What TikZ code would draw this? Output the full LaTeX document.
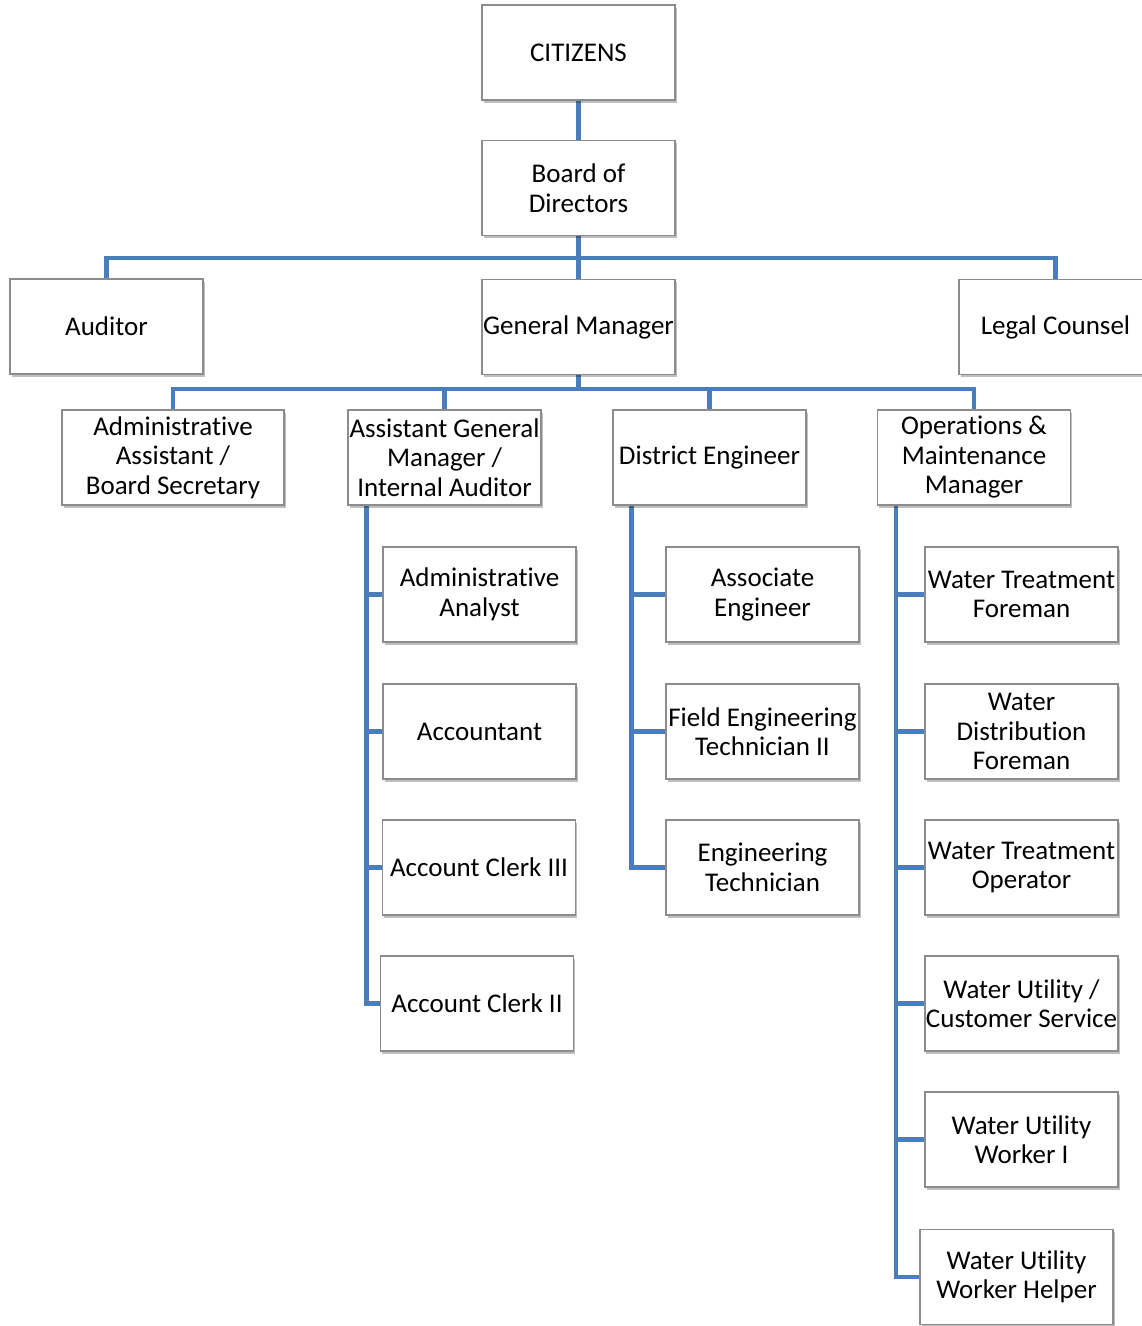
\documentclass[tikz,border=0pt]{standalone}
\usepackage{fontspec}
\setmainfont{Carlito}[Ligatures={NoCommon}]
\usetikzlibrary{shadows,backgrounds}
\definecolor{linkblue}{HTML}{4A7EBB}
\definecolor{boxgray}{HTML}{8C8C8C}
\begin{document}
\begin{tikzpicture}[x=1pt,y=-1pt,
  box/.style={draw=boxgray, line width=1.2pt, fill=white, minimum width=193pt, minimum height=95pt,
    inner sep=1pt, align=center, font=\fontsize{27}{29.5}\selectfont,
    general shadow={shadow xshift=1.5pt, shadow yshift=-2.5pt, fill=black, opacity=0.25}},
  link/.style={draw=linkblue, line width=4.6pt}]
\useasboundingbox (0,0) rectangle (1142,1326);
% level 0-1
\node[box] (cit) at (578.5,52.5) {CITIZENS};
\node[box] (bod) at (578.5,188) {Board of\\Directors};
\node[box] (aud) at (106.5,326.5) {Auditor};
\node[box] (gm) at (578.5,327) {General Manager};
\node[box] (lc) at (1055.5,327) {Legal Counsel};
% level 2
\node[box, minimum width=222pt] (aa) at (173,457.5) {Administrative\\Assistant /\\Board Secretary};
\node[box] (agm) at (444.5,457.5) {Assistant General\\Manager /\\Internal Auditor};
\node[box] (de) at (709.5,457.5) {District Engineer};
\node[box] (om) at (974,457.5) {Operations \&\\Maintenance\\Manager};
% AGM children
\node[box] (an) at (479.5,594.5) {Administrative\\Analyst};
\node[box] (ac) at (479.5,731.5) {Accountant};
\node[box] (ac3) at (479,867.5) {Account Clerk III};
\node[box] (ac2) at (477,1003.5) {Account Clerk II};
% DE children
\node[box] (ae) at (762.5,594.5) {Associate\\Engineer};
\node[box] (fet) at (762.5,731.5) {Field Engineering\\Technician II};
\node[box] (et) at (762.5,867.5) {Engineering\\Technician};
% O&M children
\node[box] (wtf) at (1021.5,594.5) {Water Treatment\\Foreman};
\node[box] (wdf) at (1021.5,731.5) {Water\\Distribution\\Foreman};
\node[box] (wto) at (1021.5,867.5) {Water Treatment\\Operator};
\node[box] (wucs) at (1021.5,1003.5) {Water Utility /\\Customer Service};
\node[box] (wuw) at (1021.5,1139.5) {Water Utility\\Worker I};
\node[box] (wuh) at (1016.5,1277) {Water Utility\\Worker Helper};
\coordinate (bus1) at (578.5,258);
\coordinate (bus2) at (578.5,389);
\begin{scope}[on background layer]
\fill[white] (0,0) rectangle (1142,1326);
\draw[link] (cit) -- (bod);
\draw[link] (bod.south) -- (bus1);
\draw[link] (aud.north) |- (bus1) -| (lc.north);
\draw[link] (bus1) -- (gm.north);
\draw[link] (gm.south) -- (bus2);
\draw[link] (aa.north) |- (bus2) -| (om.north);
\draw[link] (agm.north) -- (agm.north |- bus2);
\draw[link] (de.north) -- (de.north |- bus2);
\foreach \c in {an,ac,ac3,ac2}{\draw[link] ([xshift=19pt]agm.south west) |- (\c.west);}
\foreach \c in {ae,fet,et}{\draw[link] ([xshift=19pt]de.south west) |- (\c.west);}
\foreach \c in {wtf,wdf,wto,wucs,wuw,wuh}{\draw[link] ([xshift=19pt]om.south west) |- (\c.west);}
\end{scope}
\end{tikzpicture}
\end{document}
